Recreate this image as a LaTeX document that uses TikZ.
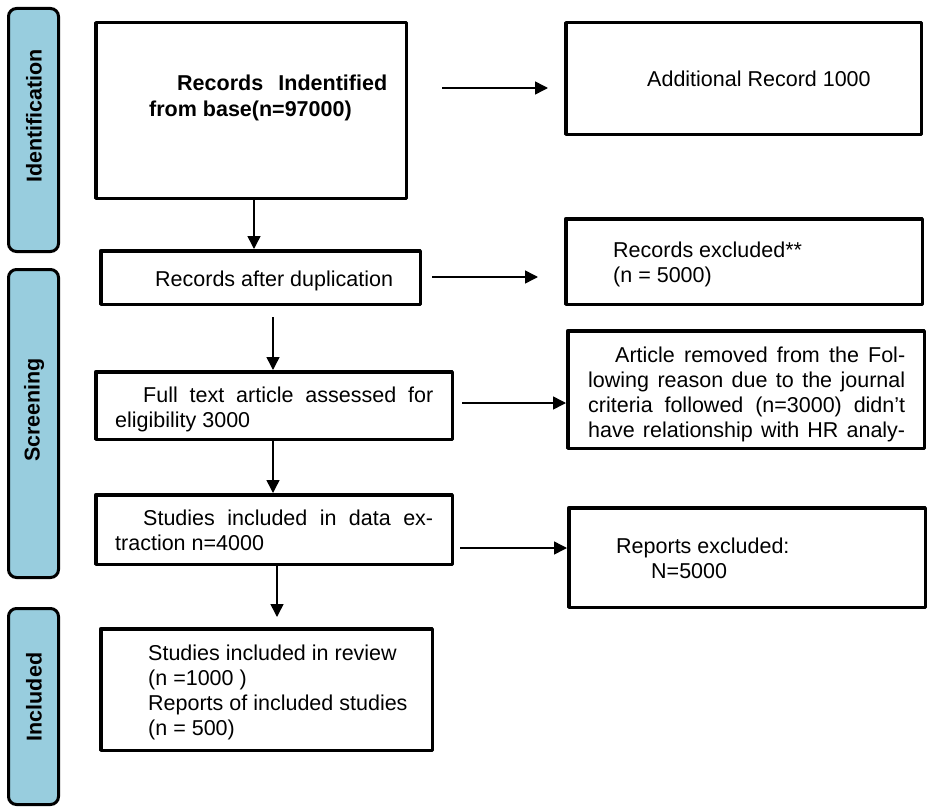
\documentclass[tikz,border=0pt]{standalone}
\usepackage{fontspec}
\setmainfont{Liberation Sans}
\usetikzlibrary{arrows.meta,calc}
\definecolor{barblue}{RGB}{152,205,222}
\begin{document}
\begin{tikzpicture}[x=1pt,y=-1pt,
  box/.style={draw,line width=3.5pt,line join=round,inner sep=0pt,rectangle},
  bar/.style={draw,line width=3pt,fill=barblue,rounded corners=8pt,inner sep=0pt,rectangle},
  lbl/.style={font=\fontsize{21.5}{25}\selectfont\bfseries,rotate=90,inner sep=0pt},
  txt/.style={font=\fontsize{21.5}{25}\selectfont,align=left,inner sep=0pt,anchor=base west},
  btxt/.style={font=\fontsize{21.5}{25}\selectfont\bfseries,align=left,inner sep=0pt,anchor=base west},
  arr/.style={line width=1.5pt,-{Triangle[length=13pt,width=13pt]}}]
\useasboundingbox (0,0) rectangle (929,808);

% phase bars
\node[bar,minimum width=50pt,minimum height=243pt] (bid) at (33.5,130) {};
\node[bar,minimum width=50pt,minimum height=308pt] (bsc) at (33.5,423.5) {};
\node[bar,minimum width=50pt,minimum height=196pt] (bin) at (33.5,706.5) {};
\node[lbl] (lid) at (34,116) {Identification};
\node[lbl] (lsc) at (34,410) {Screening};
\node[lbl] (lin) at (34,697) {Included};

% boxes
\node[box,minimum width=310.5pt,minimum height=175.5pt] (box1) at (251,110.5) {};
\node[box,minimum width=319.5pt,minimum height=53.5pt] (box2) at (260.5,277.5) {};
\node[box,minimum width=356.5pt,minimum height=67.5pt] (box3) at (274,405.5) {};
\node[box,minimum width=356.5pt,minimum height=69.5pt] (box4) at (274,529.5) {};
\node[box,minimum width=331.5pt,minimum height=121.5pt] (box5) at (266.5,689.5) {};
\node[box,minimum width=355.5pt,minimum height=111.5pt] (add) at (743.5,78.5) {};
\node[box,minimum width=356.5pt,minimum height=85.5pt] (excl) at (744,261.5) {};
\node[box,minimum width=356.5pt,minimum height=117.5pt] (art) at (746,389.5) {};
\node[box,minimum width=356.5pt,minimum height=99.5pt] (rep) at (747,557.5) {};

% texts (anchored at the baseline of their last line)
\node[btxt] (t1) at (149,116) {\hspace*{28pt}\makebox[210pt][s]{Records Indentified}\\from base(n=97000)};
\node[txt] (t2) at (155,286) {Records after duplication};
\node[txt] (t3) at (115,427) {\hspace*{28pt}\makebox[290pt][s]{Full text article assessed for}\\eligibility 3000};
\node[txt] (t4) at (115,550) {\hspace*{28pt}\makebox[290pt][s]{Studies included in data ex-}\\traction n=4000};
\node[txt] (t5) at (148,735) {Studies included in review\\(n =1000 )\\Reports of included studies\\(n = 500)};
\node[txt] (tadd) at (647,87) {Additional Record 1000};
\node[txt] (texcl) at (613,282) {Records excluded**\\(n = 5000)};
\node[txt] (tart) at (588,437) {\hspace*{27pt}\makebox[290pt][s]{Article removed from the Fol-}\\\makebox[317pt][s]{lowing reason due to the journal}\\\makebox[317pt][s]{criteria followed (n=3000) didn’t}\\\makebox[317pt][s]{have relationship with HR analy-}};
\node[txt] (trep) at (616,578) {Reports excluded:\\\hspace*{35pt}N=5000};

% rows and columns for connectors
\coordinate (r1) at (0,88);
\coordinate (r2) at (0,277);
\coordinate (r3) at (0,403);
\coordinate (r4) at (0,548);
\coordinate (c1) at (254,0);
\coordinate (c2) at (273,0);
\coordinate (c3) at (277,0);

% horizontal arrows
\draw[arr,shorten <=34pt,shorten >=16pt] (box1.east |- r1) -- (add.west |- r1);
\draw[arr,shorten <=10pt,shorten >=26pt] (box2.east |- r2) -- (excl.west |- r2);
\draw[arr,shorten <=8pt] (box3.east |- r3) -- (art.west |- r3);
\draw[arr,shorten <=6pt] (box4.east |- r4) -- (rep.west |- r4);

% vertical arrows
\draw[arr] (box1.south -| c1) -- (box2.north -| c1);
\draw[arr,shorten <=11pt] (box2.south -| c2) -- (box3.north -| c2);
\draw[arr] (box3.south -| c2) -- (box4.north -| c2);
\draw[arr,shorten >=10pt] (box4.south -| c3) -- (box5.north -| c3);
\end{tikzpicture}
\end{document}
